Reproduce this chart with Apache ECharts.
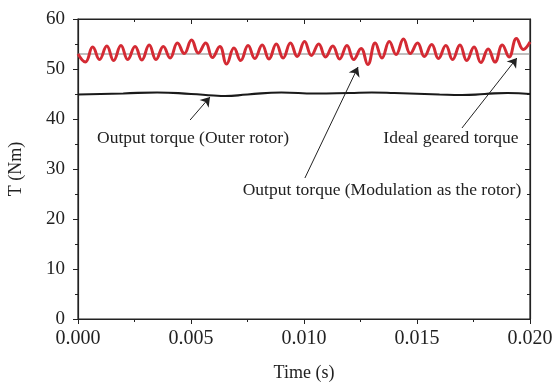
<!DOCTYPE html>
<html>
<head>
<meta charset="utf-8">
<script src="https://cdn.jsdelivr.net/npm/echarts@6/dist/echarts.min.js"></script>
<style>
html,body{margin:0;padding:0;background:#fff;}
#main{width:555px;height:387px;}
</style>
</head>
<body>
<div id="main"></div>
<script>
// tick labels
var xTicks = [0, 0.005, 0.010, 0.015, 0.020];
var yTicks = [0, 10, 20, 30, 40, 50, 60];

// Output torque (Modulation as the rotor) - read peak/trough by peak/trough
var modTime = [0, 0.000325, 0.00065, 0.00095, 0.001275, 0.001575, 0.0019, 0.0022, 0.002525, 0.002825,
	0.00315, 0.00345, 0.003775, 0.004075, 0.0044, 0.0047, 0.005025, 0.005325, 0.00565, 0.00595,
	0.006275, 0.006575, 0.0069, 0.0072, 0.007525, 0.007825, 0.00815, 0.00845, 0.008775, 0.009075,
	0.0094, 0.0097, 0.010025, 0.010325, 0.01065, 0.01095, 0.011275, 0.011575, 0.0119, 0.0122,
	0.012525, 0.012825, 0.01315, 0.01345, 0.013775, 0.014075, 0.0144, 0.0147, 0.015025, 0.015325,
	0.01565, 0.01595, 0.016275, 0.016575, 0.0169, 0.0172, 0.017525, 0.017825, 0.01815, 0.01845,
	0.018775, 0.019075, 0.0194, 0.0197, 0.020];
var modTorque = [53.0, 51.4, 54.4, 51.9, 54.6, 51.7, 54.7, 51.9, 54.5, 51.8,
	54.8, 51.9, 54.5, 52.2, 55.2, 53.1, 55.8, 53.2, 55.2, 52.3,
	54.5, 51.0, 54.2, 51.7, 54.7, 52.1, 54.8, 52.0, 55.0, 52.2,
	55.2, 52.5, 55.5, 52.7, 55.0, 52.4, 54.6, 52.0, 54.7, 51.9,
	54.1, 50.9, 55.2, 52.2, 55.5, 52.9, 56.0, 53.1, 55.2, 52.5,
	54.9, 52.1, 54.7, 51.9, 54.8, 51.7, 54.4, 51.3, 54.0, 51.4,
	54.8, 52.4, 56.1, 53.9, 55.4];

// Output torque (Outer rotor)
var outerTime = [0, 0.001, 0.002, 0.0035, 0.005, 0.006, 0.0065, 0.0075, 0.009, 0.0105,
	0.012, 0.013, 0.014, 0.016, 0.017, 0.018, 0.019, 0.020];
var outerTorque = [44.9, 45.0, 45.1, 45.3, 45.0, 44.7, 44.6, 44.9, 45.3, 45.1,
	45.2, 45.3, 45.2, 44.9, 44.8, 45.0, 45.2, 45.0];

// Ideal geared torque
var idealTime = [0, 0.020];
var idealTorque = [53.0, 53.0];

// annotations: [text, text x, text y, arrow tail x, tail y, tip x, tip y]
var notes = [
	['Output torque (Outer rotor)', 0.00509, 36.2, 0.00496, 39.8, 0.00584, 44.4],
	['Output torque (Modulation as the rotor)', 0.01345, 25.8, 0.01004, 28.2, 0.01239, 50.4],
	['Ideal geared torque', 0.0165, 36.2, 0.01699, 38.2, 0.01942, 52.2]
];

function pairs(xs, ys){
	var out = [];
	for (var i = 0; i < xs.length; i++) out.push([xs[i], ys[i]]);
	return out;
}

var font = 'Liberation Serif';
var ink = '#222';
var chart = echarts.init(document.getElementById('main'));

var option = {
	animation: false,
	backgroundColor: '#fff',
	grid: {
		left: 78, right: 25, top: 19, bottom: 68,
		containLabel: false, outerBoundsMode: 'none',
		show: true, borderColor: ink, borderWidth: 1.2, backgroundColor: 'transparent'
	},
	xAxis: [{
		type: 'value',
		min: xTicks[0],
		max: xTicks[xTicks.length - 1],
		interval: xTicks[1] - xTicks[0],
		name: 'Time (s)',
		nameLocation: 'middle',
		nameGap: 45,
		nameTextStyle: {fontFamily: font, fontSize: 18, color: ink},
		axisLine: {show: true, lineStyle: {color: ink, width: 1.2}},
		axisTick: {show: true, inside: false, length: 5, lineStyle: {color: ink}},
		minorTick: {show: true, splitNumber: 2, length: 3, lineStyle: {color: ink}},
		axisLabel: {
			fontFamily: font, fontSize: 20, color: ink, margin: 10,
			formatter: function(v){ return v.toFixed(3); }
		},
		splitLine: {show: false}
	}, {
		type: 'value',
		position: 'top',
		min: xTicks[0],
		max: xTicks[xTicks.length - 1],
		interval: xTicks[1] - xTicks[0],
		axisLine: {show: true, onZero: false, lineStyle: {color: ink, width: 1.2}},
		axisTick: {show: true, inside: true, length: 5, lineStyle: {color: ink}},
		minorTick: {show: true, splitNumber: 2, length: 3, lineStyle: {color: ink}},
		axisLabel: {show: false},
		splitLine: {show: false}
	}],
	yAxis: [{
		type: 'value',
		min: yTicks[0],
		max: yTicks[yTicks.length - 1],
		interval: yTicks[1] - yTicks[0],
		name: 'T (Nm)',
		nameLocation: 'middle',
		nameGap: 53,
		nameTextStyle: {fontFamily: font, fontSize: 18, color: ink},
		axisLine: {show: true, lineStyle: {color: ink, width: 1.2}},
		axisTick: {show: true, inside: false, length: 5, lineStyle: {color: ink}},
		minorTick: {show: true, splitNumber: 2, length: 3, lineStyle: {color: ink}},
		axisLabel: {fontFamily: font, fontSize: 19, color: ink, margin: 13},
		splitLine: {show: false}
	}, {
		type: 'value',
		position: 'right',
		min: yTicks[0],
		max: yTicks[yTicks.length - 1],
		interval: yTicks[1] - yTicks[0],
		axisLine: {show: true, onZero: false, lineStyle: {color: ink, width: 1.2}},
		axisTick: {show: true, inside: true, length: 5, lineStyle: {color: ink}},
		minorTick: {show: true, splitNumber: 2, length: 3, lineStyle: {color: ink}},
		axisLabel: {show: false},
		splitLine: {show: false}
	}],
	series: [
	{
		name: 'Ideal geared torque',
		type: 'line',
		data: pairs(idealTime, idealTorque),
		showSymbol: false,
		lineStyle: {color: '#808080', width: 1},
		z: 1
	},
	{
		name: 'Output torque (Outer rotor)',
		type: 'line',
		data: pairs(outerTime, outerTorque),
		showSymbol: false,
		smooth: 0.5,
		lineStyle: {color: '#1a1a1a', width: 2.2},
		z: 2
	},
	{
		name: 'Output torque (Modulation as the rotor)',
		type: 'line',
		data: pairs(modTime, modTorque),
		showSymbol: false,
		smooth: 0.45,
		lineStyle: {color: '#d42a33', width: 3},
		z: 3
	},
	{
		name: 'notes',
		type: 'line',
		xAxisIndex: 1,
		yAxisIndex: 1,
		data: [[0, -10]],
		showSymbol: false,
		lineStyle: {opacity: 0},
		z: 4,
		markLine: {
			silent: true,
			symbol: ['none', 'arrow'],
			symbolSize: 9,
			label: {show: false},
			lineStyle: {color: ink, width: 1, type: 'solid'},
			data: notes.map(function(n){
				return [{coord: [n[3], n[4]]}, {coord: [n[5], n[6]]}];
			})
		},
		markPoint: {
			silent: true,
			symbol: 'circle',
			symbolSize: 0,
			label: {
				show: true,
				position: 'inside',
				fontFamily: font,
				fontSize: 17.5,
				color: ink,
				formatter: function(p){ return p.name; }
			},
			data: notes.map(function(n){
				return {name: n[0], coord: [n[1], n[2]]};
			})
		}
	}
	]
};

chart.setOption(option);
window.addEventListener('resize', function(){ chart.resize(); });
</script>
</body>
</html>
